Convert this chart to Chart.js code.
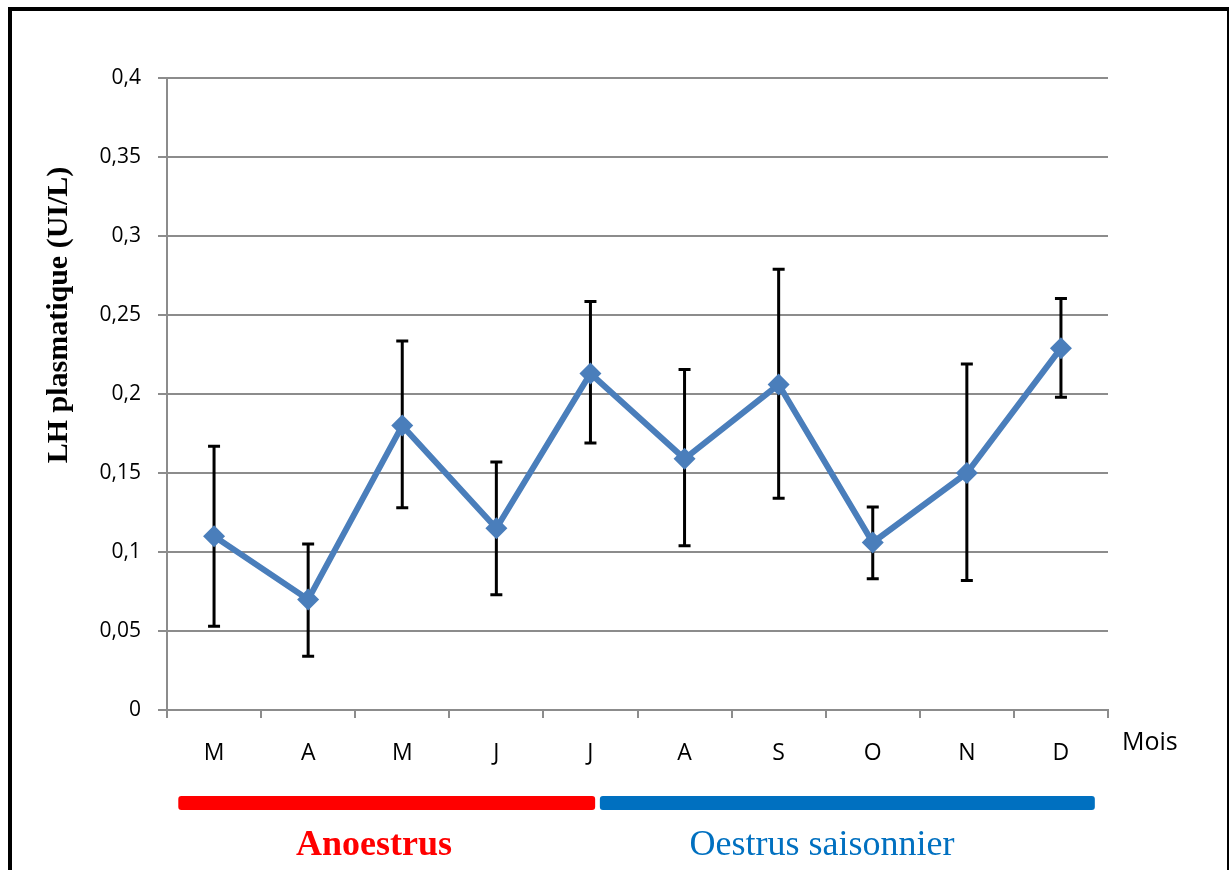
<!DOCTYPE html>
<html>
<head>
<meta charset="utf-8">
<script src="https://cdn.jsdelivr.net/npm/chart.js@4"></script>
<style>
  body { margin: 0; background: #fff; }
  #frame {
    position: absolute; left: 8px; top: 7px; width: 1215px; height: 880px;
    border-left: 4px solid #000; border-top: 4px solid #000; border-right: 2px solid #000;
  }
  #chart { position: absolute; left: 0; top: 0; }
</style>
</head>
<body>
<div id="frame"></div>
<canvas id="chart" width="1231" height="870"></canvas>
<script>
// =========================
// DATA
// =========================
const months = ["M", "A", "M", "J", "J", "A", "S", "O", "N", "D"];
const lhMean = [0.110, 0.070, 0.180, 0.115, 0.213, 0.159, 0.206, 0.106, 0.150, 0.229];
const lhUpper = [0.167, 0.105, 0.2335, 0.157, 0.2585, 0.2155, 0.279, 0.1285, 0.219, 0.2605];
const lhLower = [0.053, 0.034, 0.128, 0.073, 0.169, 0.104, 0.134, 0.083, 0.082, 0.198];
const yTickLabels = ["0", "0,05", "0,1", "0,15", "0,2", "0,25", "0,3", "0,35", "0,4"];

// phases under the axis, in month-index units
const phaseNames = ["Anoestrus", "Oestrus saisonnier"];
const phaseStart = [-0.38, 4.10];
const phaseEnd = [4.05, 9.36];
const phaseLabelAt = [1.70, 6.46];
const phaseColors = ["#ff0000", "#0070c0"];

const GRID = "#8c8c8c";

// =========================
// ERROR BARS
// =========================
const errorBars = {
  id: "errorBars",
  beforeDatasetsDraw(chart) {
    const { ctx, scales: { x, y } } = chart;
    ctx.save();
    ctx.strokeStyle = "#000";
    ctx.lineWidth = 3;
    lhMean.forEach((m, i) => {
      const px = x.getPixelForValue(i);
      const top = y.getPixelForValue(lhUpper[i]);
      const bot = y.getPixelForValue(lhLower[i]);
      ctx.beginPath();
      ctx.moveTo(px, top); ctx.lineTo(px, bot);
      ctx.moveTo(px - 6, top); ctx.lineTo(px + 6, top);
      ctx.moveTo(px - 6, bot); ctx.lineTo(px + 6, bot);
      ctx.stroke();
    });
    ctx.restore();
  }
};

// =========================
// EXTRA TEXT + PHASE BANDS
// =========================
const decorations = {
  id: "decorations",
  afterDraw(chart) {
    const { ctx, scales: { x } } = chart;
    const step = x.getPixelForValue(1) - x.getPixelForValue(0);
    const at = v => x.getPixelForValue(0) + v * step;
    ctx.save();

    // y title
    ctx.translate(59, 315);
    ctx.rotate(-Math.PI / 2);
    ctx.fillStyle = "#000";
    ctx.font = "bold 30px 'Liberation Serif'";
    ctx.textAlign = "center";
    ctx.textBaseline = "middle";
    ctx.fillText("LH plasmatique (UI/L)", 0, 0);
    ctx.setTransform(1, 0, 0, 1, 0, 0);

    // x title
    ctx.font = "25px 'Open Sans'";
    ctx.textAlign = "left";
    ctx.fillText("Mois", 1122, 743);

    // phases
    phaseNames.forEach((name, i) => {
      const x0 = at(phaseStart[i]);
      const x1 = at(phaseEnd[i]);
      ctx.fillStyle = phaseColors[i];
      ctx.beginPath();
      ctx.roundRect(x0, 796, x1 - x0, 14, 3);
      ctx.fill();
      ctx.font = (i === 0 ? "bold " : "") + "36px 'Liberation Serif'";
      ctx.textAlign = "center";
      ctx.textBaseline = "alphabetic";
      ctx.fillText(name, at(phaseLabelAt[i]), 855);
    });
    ctx.restore();
  }
};

// =========================
// CHART
// =========================
new Chart(document.getElementById("chart"), {
  type: "line",
  data: {
    labels: months,
    datasets: [{
      data: lhMean,
      borderColor: "#4a7ebb",
      backgroundColor: "#4a7ebb",
      borderWidth: 6,
      pointStyle: "rectRot",
      pointRadius: 11,
      pointHoverRadius: 11,
      pointBorderWidth: 0,
      tension: 0
    }]
  },
  options: {
    responsive: false,
    devicePixelRatio: 1,
    animation: false,
    layout: { padding: { left: 0, top: 78, right: 123, bottom: 0 } },
    plugins: { legend: { display: false }, tooltip: { enabled: false } },
    scales: {
      x: {
        offset: true,
        afterFit: s => { s.height = 160; },
        grid: { offset: true, drawOnChartArea: false, drawTicks: true, tickLength: 8, color: GRID, lineWidth: 2 },
        border: { display: true, color: GRID, width: 2 },
        ticks: { color: "#000", padding: 22, font: { family: "'Open Sans'", size: 23 } }
      },
      y: {
        min: 0,
        max: 0.4,
        afterFit: s => { s.width = 167; },
        ticks: {
          stepSize: 0.05,
          padding: 17,
          color: "#000",
          font: { family: "'Open Sans'", size: 21 },
          callback: (v, i) => yTickLabels[i]
        },
        grid: { color: GRID, lineWidth: 2, tickLength: 9 },
        border: { display: true, color: GRID, width: 2 }
      }
    }
  },
  plugins: [errorBars, decorations]
});
</script>
</body>
</html>
